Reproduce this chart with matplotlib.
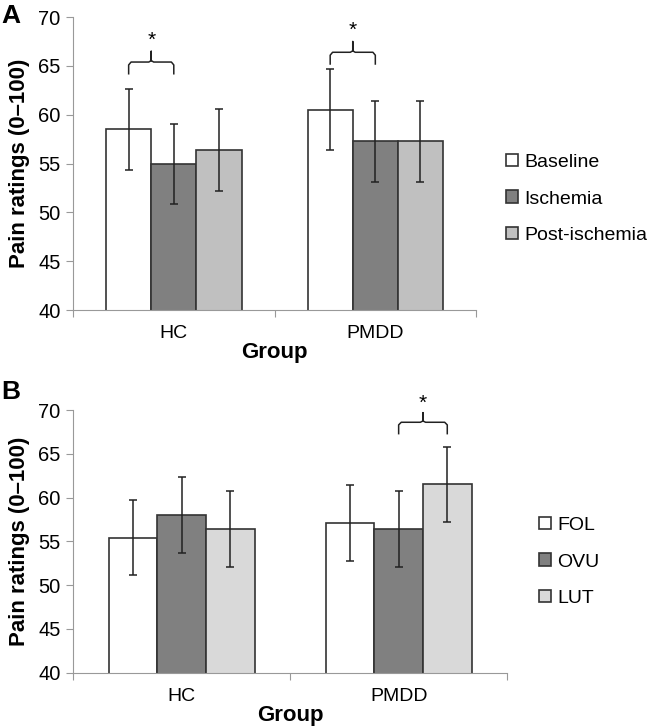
import matplotlib
matplotlib.use('Agg')
import matplotlib.pyplot as plt
import numpy as np

plt.rcParams['font.family'] = ['Liberation Sans', 'DejaVu Sans']

groups = ['HC', 'PMDD']

# panel A: task phase
phase_names = ['Baseline', 'Ischemia', 'Post-ischemia']
phase_means = [[58.5, 60.5], [55.0, 57.3], [56.4, 57.3]]
phase_err = [[4.15, 4.15], [4.1, 4.15], [4.2, 4.15]]
phase_colors = ['#ffffff', '#808080', '#c0c0c0']

# panel B: menstrual cycle phase
cycle_names = ['FOL', 'OVU', 'LUT']
cycle_means = [[55.4, 57.1], [58.0, 56.4], [56.4, 61.5]]
cycle_err = [[4.3, 4.3], [4.3, 4.3], [4.3, 4.3]]
cycle_colors = ['#ffffff', '#808080', '#d9d9d9']

# significance brackets: (group index, bar i, bar j, bottom, top, peak, star)
sig_a = [(0, 0, 1, 64.2, 65.4, 66.5, 67.6), (1, 0, 1, 65.2, 66.4, 67.5, 68.6)]
sig_b = [(1, 1, 2, 67.3, 68.6, 69.7, 70.8)]

width = 0.224
fig = plt.figure(figsize=(6.48, 7.28), dpi=100)


def bracket(ax, x0, x1, b, t, p):
    xm = (x0 + x1) / 2
    r = 0.012
    xs = [x0, x0, x0 + r, xm - r, xm, xm, xm, xm + r, x1 - r, x1, x1]
    ys = [b, t - 0.3, t, t, t + 0.15, p, t + 0.15, t, t, t - 0.3, b]
    ax.plot(xs, ys, color='#222222', lw=1.1, clip_on=False)


def panel(rect, names, means, errs, colors, sig, leg_xy):
    ax = fig.add_axes(rect)
    x = np.arange(len(groups))
    for k in range(len(names)):
        pos = x + (k - 1) * width
        ax.bar(pos, means[k], width, color=colors[k], edgecolor='#333333',
               linewidth=1.2, label=names[k], zorder=2)
        ax.errorbar(pos, means[k], yerr=errs[k], fmt='none', ecolor='#222222',
                    elinewidth=1.1, capsize=3, capthick=1.1, zorder=3)
    for g, i, j, b, t, p, s in sig:
        x0 = g + (i - 1) * width
        x1 = g + (j - 1) * width
        bracket(ax, x0, x1, b, t, p)
        ax.text((x0 + x1) / 2, s, '*', ha='center', va='center', fontsize=15,
                clip_on=False)
    ax.set_xlim(-0.5, 1.5)
    ax.set_ylim(40, 70)
    ax.set_yticks(range(40, 71, 5))
    ax.set_xticks([-0.5, 0.5, 1.5])
    ax.set_xticklabels([])
    ax.set_xticks([0, 1], minor=True)
    ax.set_xticklabels(groups, minor=True)
    ax.tick_params(axis='x', which='minor', length=0, pad=11, labelsize=14)
    ax.tick_params(axis='x', which='major', length=5, color='#999999')
    ax.tick_params(axis='y', length=5, color='#999999', labelsize=14.5, pad=4)
    for s in ['top', 'right']:
        ax.spines[s].set_visible(False)
    for s in ['left', 'bottom']:
        ax.spines[s].set_color('#999999')
    ax.set_xlabel('Group', fontsize=16, fontweight='bold', labelpad=0)
    ax.set_ylabel('Pain ratings (0\u2013100)', fontsize=16, fontweight='bold',
                  labelpad=6)
    ax.legend(loc='center left', bbox_to_anchor=leg_xy,
              bbox_transform=fig.transFigure, frameon=False, fontsize=14,
              handlelength=0.6, handleheight=0.6, handletextpad=0.35,
              labelspacing=1.0, borderpad=0, borderaxespad=0)
    return ax


panel([0.1127, 0.574, 0.622, 0.4025], phase_names, phase_means, phase_err,
      phase_colors, sig_a, (506 / 648, 1 - 199 / 728))
panel([0.1127, 0.076, 0.670, 0.3608], cycle_names, cycle_means, cycle_err,
      cycle_colors, sig_b, (539 / 648, 1 - 562 / 728))

fig.text(0.002, 0.995, 'A', fontsize=19, fontweight='bold', va='top')
fig.text(0.002, 1 - 380 / 728, 'B', fontsize=19, fontweight='bold', va='top')

fig.savefig('out.png', dpi=100)
